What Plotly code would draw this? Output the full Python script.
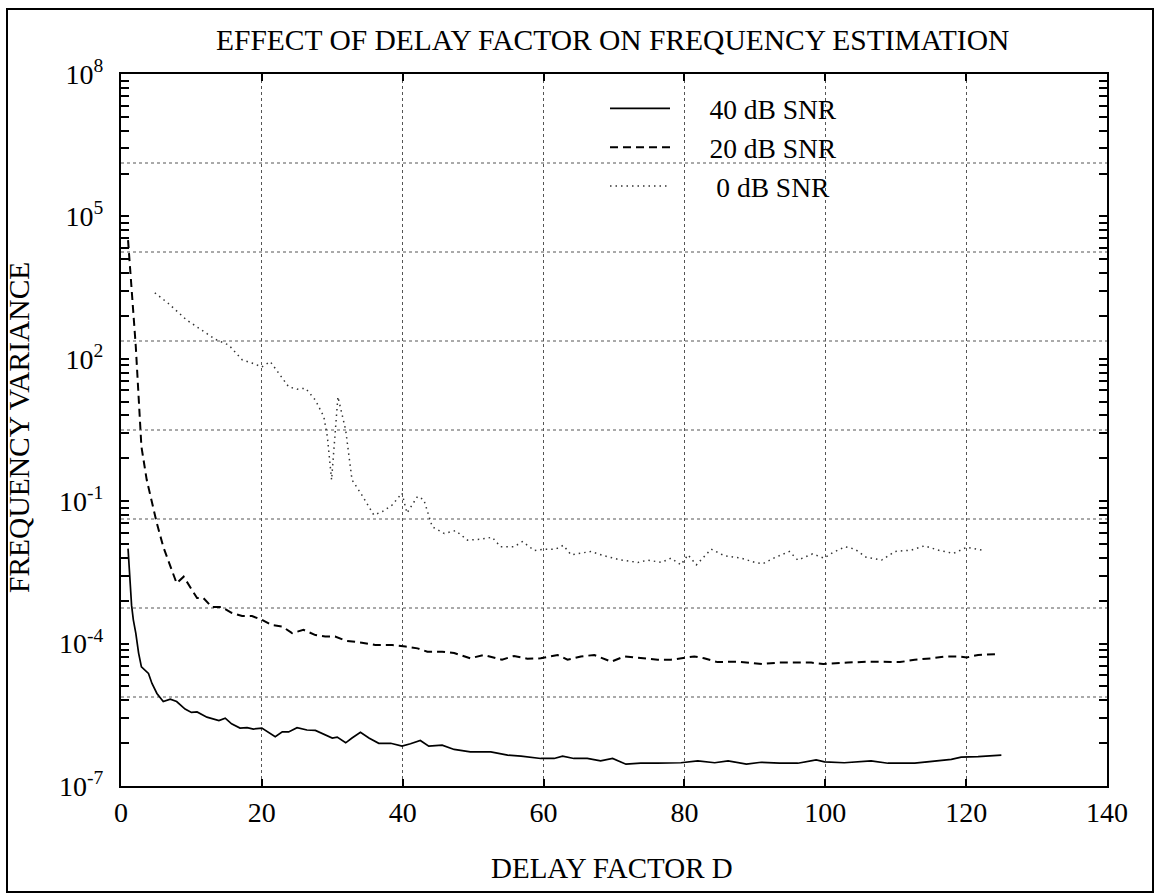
import plotly.graph_objects as go

# ---------------- data ----------------
# delay factor D and log10(frequency variance)
d_40db = [1.0, 1.5, 1.75, 2.1, 2.5, 2.9, 3.9, 4.4, 5.1, 6.0, 7.0, 7.9, 9.1, 10.0, 10.8, 12.2,
          13.9, 14.8, 15.7, 16.9, 17.9, 18.8, 20.0, 21.0, 21.9, 22.9, 23.8, 25.0, 26.4, 27.6,
          28.8, 30.0, 30.7, 31.9, 32.8, 34.0, 35.2, 36.6, 38.3, 39.9, 41.1, 42.5, 43.7, 45.6,
          47.3, 49.6, 52.5, 54.9, 56.8, 59.6, 61.5, 62.7, 64.3, 66.2, 68.1, 69.8, 71.7, 73.8,
          76.2, 79.5, 81.9, 84.3, 86.2, 88.8, 90.9, 93.5, 96.1, 98.7, 99.9, 102.7, 106.5,
          108.9, 112.7, 115.5, 117.9, 119.3, 121.7, 125.0]
log_40db = [-2.0, -3.19, -3.50, -3.78, -4.20, -4.49, -4.63, -4.84, -5.05, -5.22, -5.17, -5.22,
            -5.38, -5.45, -5.44, -5.55, -5.62, -5.57, -5.69, -5.78, -5.77, -5.80, -5.78, -5.88,
            -5.96, -5.86, -5.86, -5.77, -5.82, -5.83, -5.91, -5.99, -5.97, -6.09, -5.99, -5.87,
            -5.99, -6.10, -6.10, -6.16, -6.11, -6.04, -6.16, -6.14, -6.23, -6.28, -6.28, -6.35,
            -6.37, -6.42, -6.42, -6.37, -6.42, -6.42, -6.47, -6.42, -6.54, -6.52, -6.52, -6.51,
            -6.47, -6.51, -6.47, -6.54, -6.50, -6.52, -6.52, -6.45, -6.49, -6.51, -6.47, -6.52,
            -6.52, -6.47, -6.44, -6.39, -6.38, -6.35]

d_20db = [1.0, 1.4, 1.75, 2.1, 2.5, 2.9, 3.65, 4.4, 5.1, 6.0, 7.0, 7.9, 8.9, 9.8, 10.8, 11.7,
          12.9, 14.3, 15.7, 17.2, 18.6, 20.0, 21.4, 22.9, 24.3, 25.9, 27.6, 29.0, 30.4, 31.9,
          34.2, 36.1, 38.5, 40.4, 42.1, 43.5, 45.6, 47.3, 49.6, 51.5, 54.1, 55.8, 57.7, 59.6,
          62.0, 63.4, 65.3, 67.2, 69.6, 71.5, 73.8, 76.2, 78.1, 79.5, 81.4, 82.8, 84.7, 87.6,
          89.5, 91.1, 93.3, 96.1, 98.0, 99.7, 101.3, 103.2, 106.1, 108.4, 110.6, 112.7, 115.1,
          117.0, 118.9, 120.1, 121.7, 124.6]
log_20db = [4.5, 3.73, 2.96, 2.26, 1.20, 0.15, -0.55, -1.04, -1.47, -1.96, -2.38, -2.73, -2.59,
            -2.80, -3.04, -3.04, -3.23, -3.23, -3.35, -3.42, -3.42, -3.50, -3.61, -3.64, -3.78,
            -3.71, -3.82, -3.85, -3.85, -3.94, -3.98, -4.03, -4.03, -4.06, -4.10, -4.17, -4.17,
            -4.20, -4.31, -4.24, -4.34, -4.26, -4.32, -4.31, -4.24, -4.34, -4.27, -4.24, -4.38,
            -4.27, -4.31, -4.34, -4.34, -4.31, -4.27, -4.31, -4.39, -4.38, -4.40, -4.43, -4.40,
            -4.40, -4.40, -4.43, -4.41, -4.40, -4.38, -4.38, -4.39, -4.34, -4.31, -4.27, -4.27,
            -4.29, -4.24, -4.22]

d_0db = [4.8, 6.7, 9.3, 11.5, 13.4, 15.3, 17.2, 18.6, 20.0, 21.2, 22.4, 23.8, 25.0, 26.2, 27.6,
         28.8, 29.3, 29.9, 30.8, 31.9, 32.8, 34.2, 35.9, 37.1, 38.5, 39.9, 40.6, 42.1, 43.0,
         44.2, 45.9, 47.5, 49.2, 51.1, 52.7, 53.9, 55.8, 57.0, 58.7, 60.1, 61.7, 62.8, 63.9,
         65.8, 66.7, 68.6, 71.0, 73.4, 74.8, 76.7, 78.1, 79.5, 80.5, 81.7, 83.8, 85.7, 88.1,
         90.0, 91.1, 92.8, 94.9, 96.1, 98.2, 99.8, 101.1, 102.8, 104.2, 105.8, 108.0, 109.9,
         112.2, 114.1, 116.0, 118.2, 120.1, 122.2]
log_0db = [3.39, 3.17, 2.82, 2.61, 2.41, 2.29, 1.98, 1.91, 1.83, 1.94, 1.70, 1.41, 1.36, 1.38,
           1.13, 0.78, 0.36, -0.55, 1.20, 0.50, -0.55, -0.87, -1.29, -1.22, -1.08, -0.83, -1.25,
           -0.90, -0.97, -1.54, -1.68, -1.62, -1.82, -1.80, -1.76, -1.96, -1.96, -1.85, -2.04,
           -2.01, -2.01, -1.93, -2.13, -2.08, -2.06, -2.15, -2.24, -2.29, -2.24, -2.29, -2.20,
           -2.34, -2.13, -2.34, -2.01, -2.15, -2.20, -2.29, -2.32, -2.19, -2.06, -2.24, -2.11,
           -2.20, -2.08, -1.96, -2.01, -2.18, -2.24, -2.06, -2.03, -1.94, -2.03, -2.10, -1.97,
           -2.03]

series_names = ["40 dB SNR", "20 dB SNR", "0 dB SNR"]
x_ticks = [0, 20, 40, 60, 80, 100, 120, 140]
y_tick_exps = [-7, -4, -1, 2, 5, 8]
y_tick_text = ["10<sup>-7</sup>", "10<sup>-4</sup>", "10<sup>-1</sup>",
               "10<sup>2</sup>", "10<sup>5</sup>", "10<sup>8</sup>"]

# ---------------- figure ----------------
FONT = "Liberation Serif, Times New Roman, serif"
NB = "\u00a0"
legend_pad = [5, 5, 6]  # gap between legend sample line and its label
fig = go.Figure()

fig.add_trace(go.Scatter(x=d_40db, y=[10.0 ** v for v in log_40db], mode="lines",
                         name=NB * legend_pad[0] + series_names[0],
                         line=dict(color="black", width=1.7)))
fig.add_trace(go.Scatter(x=d_20db, y=[10.0 ** v for v in log_20db], mode="lines",
                         name=NB * legend_pad[1] + series_names[1],
                         line=dict(color="black", width=2, dash="8px,5px")))
fig.add_trace(go.Scatter(x=d_0db, y=[10.0 ** v for v in log_0db], mode="lines",
                         name=NB * legend_pad[2] + series_names[2],
                         line=dict(color="#333333", width=1.5, dash="1.5px,4px")))

# minor ticks: log-style subdivisions of each 3-decade label step
minor_vals = []
for b in y_tick_exps[:-1]:
    for k in range(2, 10):
        minor_vals.append(10.0 ** b * k ** 3)

L, R, T, B = 121, 53, 74, 109
W, H = 1160, 895
pw, ph = W - L - R, H - T - B


def px_x(px):
    return (px - L) / pw


def px_y(py):
    return (H - B - py) / ph


shapes = []
for k in range(1, 8):
    shapes.append(dict(type="line", xref="paper", yref="paper", x0=0, x1=1,
                       y0=k / 8, y1=k / 8, layer="below",
                       line=dict(color="#555555", width=1, dash="dot")))
shapes.append(dict(type="rect", xref="paper", yref="paper",
                   x0=px_x(7), x1=px_x(1153), y0=px_y(892), y1=px_y(9),
                   line=dict(color="black", width=2), fillcolor="rgba(0,0,0,0)"))

annotations = [
    dict(text="EFFECT OF DELAY FACTOR ON FREQUENCY ESTIMATION", xref="paper", yref="paper",
         x=px_x(612), y=px_y(40), showarrow=False, xanchor="center", yanchor="middle",
         font=dict(family=FONT, size=29.5, color="black")),
    dict(text="DELAY FACTOR D", xref="paper", yref="paper",
         x=px_x(612), y=px_y(868), showarrow=False, xanchor="center", yanchor="middle",
         font=dict(family=FONT, size=29, color="black")),
    dict(text="FREQUENCY VARIANCE", xref="paper", yref="paper", textangle=-90,
         x=px_x(19), y=px_y(428), showarrow=False, xanchor="center", yanchor="middle",
         font=dict(family=FONT, size=29.5, color="black")),
]

fig.update_layout(
    width=W, height=H, autosize=False,
    margin=dict(l=L, r=R, t=T, b=B, pad=0),
    paper_bgcolor="white", plot_bgcolor="white",
    font=dict(family=FONT, color="black"),
    shapes=shapes, annotations=annotations,
    showlegend=True,
    legend=dict(x=px_x(605), y=px_y(84), xanchor="left", yanchor="top",
                bgcolor="rgba(0,0,0,0)", borderwidth=0,
                font=dict(family=FONT, size=27.5, color="black"),
                itemwidth=60, tracegroupgap=0),
    xaxis=dict(range=[0, 140], tickvals=x_ticks, ticktext=[str(v) for v in x_ticks],
               ticks="inside", ticklen=7, tickwidth=1.5, tickcolor="black",
               showline=True, linewidth=2, linecolor="black", mirror="ticks",
               showgrid=True, gridcolor="#555555", gridwidth=1, griddash="dot",
               zeroline=False, tickfont=dict(family=FONT, size=28, color="black")),
    yaxis=dict(type="log", range=[-7, 8],
               tickvals=[10.0 ** e for e in y_tick_exps], ticktext=y_tick_text,
               ticks="inside", ticklen=8, tickwidth=1.5, tickcolor="black",
               showline=True, linewidth=2, linecolor="black", mirror="ticks",
               showgrid=False, zeroline=False, ticklabelstandoff=10,
               tickfont=dict(family=FONT, size=28, color="black"),
               minor=dict(tickvals=minor_vals, ticks="inside", ticklen=8, tickwidth=1.5,
                          tickcolor="black", showgrid=False)),
)

fig.write_html("out.html")
